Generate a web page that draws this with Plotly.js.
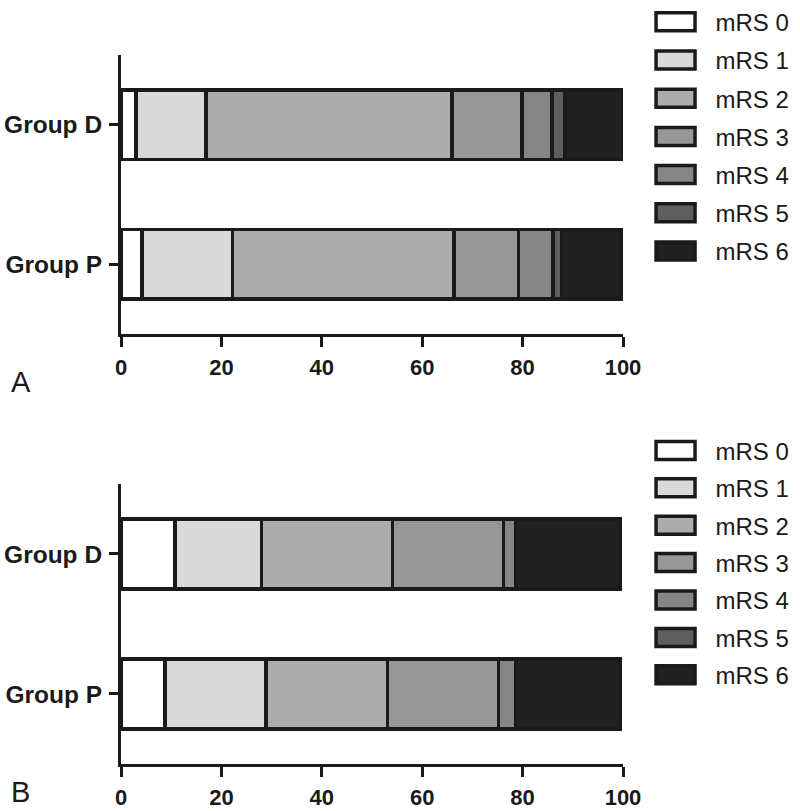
<!DOCTYPE html>
<html><head><meta charset="utf-8">
<script src="https://cdn.plot.ly/plotly-3.0.1.min.js"></script>
<style>body{margin:0;background:#fff}#chart{width:800px;height:811px}</style>
</head><body><div id="chart"></div>
<script>
const groups = ['Group D', 'Group P'];
const levels = ['mRS 0', 'mRS 1', 'mRS 2', 'mRS 3', 'mRS 4', 'mRS 5', 'mRS 6'];
const xTicks = [0, 20, 40, 60, 80, 100];
const panelLetters = ['A', 'B'];

// Panel A (percent), order: [Group D, Group P]
const a_mRS0 = [3.0, 4.2];
const a_mRS1 = [13.9, 18.0];
const a_mRS2 = [49.0, 44.1];
const a_mRS3 = [14.0, 12.9];
const a_mRS4 = [6.0, 6.9];
const a_mRS5 = [2.5, 1.6];
const a_mRS6 = [11.6, 11.9];

// Panel B (percent), order: [Group D, Group P]
const b_mRS0 = [10.8, 8.8];
const b_mRS1 = [17.2, 20.1];
const b_mRS2 = [26.1, 24.2];
const b_mRS3 = [22.1, 22.1];
const b_mRS4 = [2.4, 3.4];
const b_mRS5 = [0, 0];
const b_mRS6 = [20.9, 20.9];

const colors = ['#ffffff', '#d9d9d9', '#acacac', '#979797', '#858585', '#5e5e5e', '#212121'];
const edge = '#1a1a1a';
const fontFam = 'Liberation Sans, Arial, sans-serif';

const panelA = [a_mRS0, a_mRS1, a_mRS2, a_mRS3, a_mRS4, a_mRS5, a_mRS6];
const panelB = [b_mRS0, b_mRS1, b_mRS2, b_mRS3, b_mRS4, b_mRS5, b_mRS6];

const traces = [];
[[panelA, 'x', 'y', 'legend'], [panelB, 'x2', 'y2', 'legend2']].forEach(([vals, xa, ya, lg], p) => {
  vals.forEach((v, i) => {
    traces.push({
      type: 'bar', orientation: 'h', y: groups, x: v, name: levels[i],
      xaxis: xa, yaxis: ya, legend: lg, legendgroup: 'p' + p + 'l' + i,
      width: 0.5,
      marker: {color: colors[i], line: {color: edge, width: 3.5}},
      hoverinfo: 'x+y+name'
    });
  });
});

function xAxis(anchor) {
  return {
    anchor: anchor, domain: [0, 1], range: [0, 100], tickvals: xTicks,
    ticks: 'outside', ticklen: 10, tickwidth: 3, tickcolor: edge,
    showline: true, linewidth: 3, linecolor: edge, showgrid: false, zeroline: false,
    ticklabelstandoff: 2,
    tickfont: {family: fontFam, size: 22, color: edge, weight: 'bold'}
  };
}
function yAxis(anchor, dom) {
  return {
    anchor: anchor, domain: dom, type: 'category', categoryorder: 'array',
    categoryarray: ['Group P', 'Group D'], range: [-0.5, 1.5],
    ticks: 'outside', ticklen: 9, tickwidth: 3, tickcolor: edge,
    showline: true, linewidth: 3, linecolor: edge, showgrid: false, zeroline: false,
    ticklabelstandoff: 2,
    tickfont: {family: fontFam, size: 24.5, color: edge, weight: 'bold'}
  };
}
function legendCfg(y, gap) {
  return {
    x: 1.025, xanchor: 'left', y: y, yanchor: 'top',
    traceorder: 'grouped', tracegroupgap: gap, itemwidth: 70,
    bgcolor: 'rgba(0,0,0,0)', borderwidth: 0,
    font: {family: fontFam, size: 24, color: edge}
  };
}

const layout = {
  width: 800, height: 811,
  margin: {l: 121, r: 177, t: 55, b: 47, autoexpand: false},
  paper_bgcolor: '#fff', plot_bgcolor: '#fff',
  barmode: 'stack',
  xaxis: xAxis('y'), yaxis: yAxis('x', [0.6065, 1]),
  xaxis2: xAxis('y2'), yaxis2: yAxis('x2', [0, 0.395]),
  legend: legendCfg(1.078, 4), legend2: legendCfg(0.4735, 3.2),
  annotations: [
    {text: panelLetters[0], xref: 'paper', yref: 'paper', x: -0.2225, y: 0.5388, xanchor: 'left', yanchor: 'middle', showarrow: false, font: {family: fontFam, size: 29, color: edge}},
    {text: panelLetters[1], xref: 'paper', yref: 'paper', x: -0.2225, y: -0.039, xanchor: 'left', yanchor: 'middle', showarrow: false, font: {family: fontFam, size: 29, color: edge}}
  ],
  showlegend: true
};

Plotly.newPlot('chart', traces, layout, {displayModeBar: false, staticPlot: true}).then(gd => {
  gd.querySelectorAll('.legendpoints path').forEach(p => {
    p.setAttribute('d', 'M19.5,9H-19.5V-9H19.5Z');
    p.style.strokeWidth = '3.5px';
  });
});
</script>
</body></html>
